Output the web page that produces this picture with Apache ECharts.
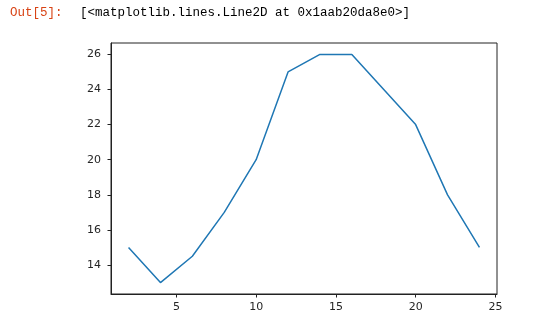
<!DOCTYPE html>
<html><head><meta charset="utf-8">
<script src="https://cdn.jsdelivr.net/npm/echarts@6/dist/echarts.min.js"></script>
<style>html,body{margin:0;padding:0;background:#fff}#c{width:539px;height:324px}</style>
</head><body><div id="c"></div>
<script>
const xValues = [2, 4, 6, 8, 10, 12, 14, 16, 18, 20, 22, 24];
const yValues = [15, 13, 14.5, 17, 20, 25, 26, 26, 24, 22, 18, 15];
const xTicks = [5, 10, 15, 20, 25];
const yTicks = [14, 16, 18, 20, 22, 24, 26];
const promptText = 'Out[5]:';
const outText = '[<matplotlib.lines.Line2D at 0x1aab20da8e0>]';

const chart = echarts.init(document.getElementById('c'), null, {renderer: 'canvas'});
const tickLabel = {color: '#262626', fontSize: 11, fontFamily: 'DejaVu Sans'};
chart.setOption({
  animation: false,
  backgroundColor: '#fff',
  graphic: [
    {type: 'text', left: 10, top: 6, style: {text: promptText, fill: '#d84315', font: '12.5px "Liberation Mono", "DejaVu Sans Mono", monospace'}},
    {type: 'text', left: 80, top: 6, style: {text: outText, fill: '#000', font: '12.5px "Liberation Mono", "DejaVu Sans Mono", monospace'}}
  ],
  grid: {left: 111, right: 42, top: 43, bottom: 30, show: true, borderColor: '#222', borderWidth: 1, backgroundColor: '#fff'},
  xAxis: {
    type: 'value', min: 0.9, max: 25.1,
    splitLine: {show: false},
    axisLine: {lineStyle: {color: '#222', width: 1}},
    axisTick: {show: true, length: 3.5, lineStyle: {color: '#222'}, customValues: xTicks},
    axisLabel: Object.assign({customValues: xTicks, margin: 8}, tickLabel)
  },
  yAxis: {
    type: 'value', min: 12.35, max: 26.65,
    splitLine: {show: false},
    axisLine: {show: true, lineStyle: {color: '#222', width: 1}},
    axisTick: {show: true, length: 3.5, lineStyle: {color: '#222'}, customValues: yTicks},
    axisLabel: Object.assign({customValues: yTicks, margin: 10}, tickLabel)
  },
  series: [{
    type: 'line',
    data: xValues.map((x, i) => [x, yValues[i]]),
    showSymbol: false,
    lineStyle: {color: '#1f77b4', width: 1.5},
    itemStyle: {color: '#1f77b4'}
  }]
});
</script></body></html>
